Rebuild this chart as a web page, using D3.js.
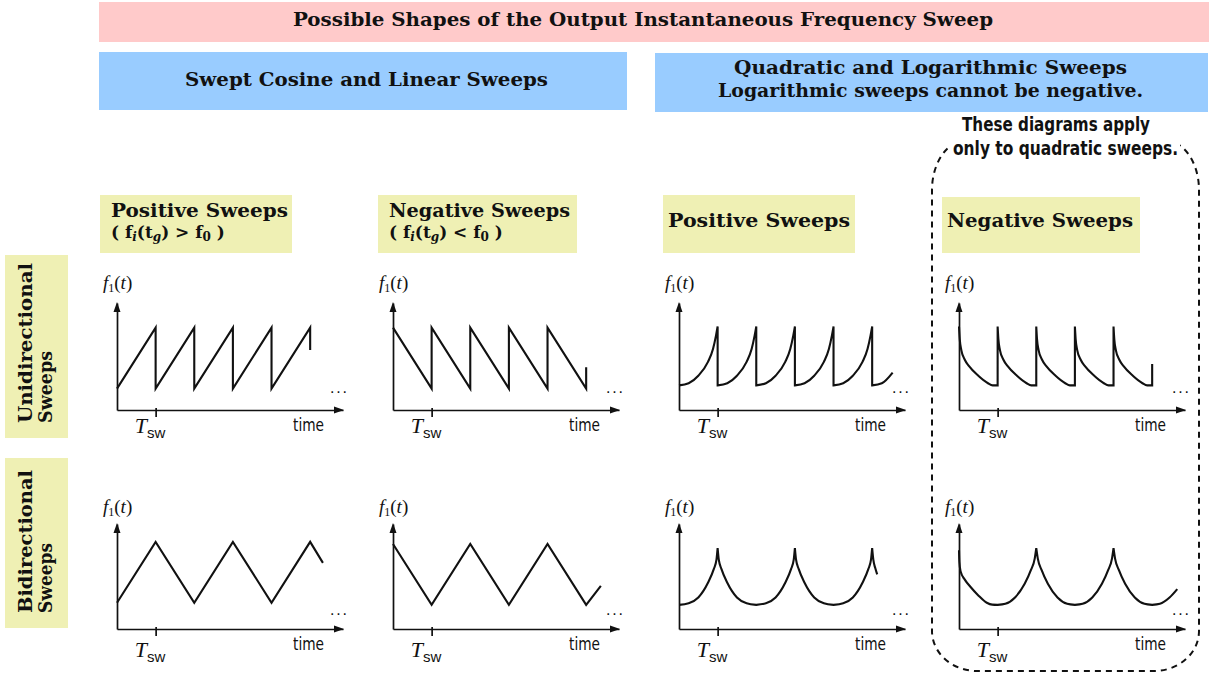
<!DOCTYPE html>
<html><head><meta charset="utf-8">
<script src="https://cdn.jsdelivr.net/npm/d3@7"></script>
<style>body{margin:0;background:#fff}svg{display:block}</style>
</head><body>
<svg id="c" width="1213" height="673"></svg>
<script>
// ---------------- data ----------------
const titleText = "Possible Shapes of the Output Instantaneous Frequency Sweep";
const leftGroupTitle = ["Swept Cosine and Linear Sweeps"];
const rightGroupTitle = ["Quadratic and Logarithmic Sweeps", "Logarithmic sweeps cannot be negative."];
const columnTitles = ["Positive Sweeps", "Negative Sweeps", "Positive Sweeps", "Negative Sweeps"];
const columnConditions = [">", "<", null, null];
const rowTitles = [["Unidirectional", "Sweeps"], ["Bidirectional", "Sweeps"]];
const noteLines = ["These diagrams apply", "only to quadratic sweeps."];
const yLabel = ["f", "1", "(", "t", ")"];
const xLabel = "time";
const tickLabel = ["T", "sw"];
const tswTicks = [1];
const timeMax = 5.85;

// time in units of Tsw, frequency as fraction of the y-axis height
const linearUniPos = [[0,0.2],[1,0.77],[1,0.2],[2,0.77],[2,0.2],[3,0.77],[3,0.2],[4,0.77],[4,0.2],[5,0.77],[5,0.56]];
const linearUniNeg = [[0,0.77],[1,0.2],[1,0.77],[2,0.2],[2,0.77],[3,0.2],[3,0.77],[4,0.2],[4,0.77],[5,0.2],[5,0.4]];
const linearBiPos  = [[0,0.25],[1,0.83],[2,0.25],[3,0.83],[4,0.25],[5,0.83],[5.33,0.63]];
const linearBiNeg  = [[0,0.81],[1,0.23],[2,0.81],[3,0.23],[4,0.81],[5,0.23],[5.38,0.41]];

const quadUniPos = [
  [[0,0.23],[0.25,0.25],[0.5,0.32],[0.75,0.45],[0.88,0.57],[0.96,0.7],[1,0.78]],
  [[1,0.23],[1.25,0.25],[1.5,0.32],[1.75,0.45],[1.88,0.57],[1.96,0.7],[2,0.78]],
  [[2,0.23],[2.25,0.25],[2.5,0.32],[2.75,0.45],[2.88,0.57],[2.96,0.7],[3,0.78]],
  [[3,0.23],[3.25,0.25],[3.5,0.32],[3.75,0.45],[3.88,0.57],[3.96,0.7],[4,0.78]],
  [[4,0.23],[4.25,0.25],[4.5,0.32],[4.75,0.45],[4.88,0.57],[4.96,0.7],[5,0.78]],
  [[5,0.23],[5.25,0.25],[5.53,0.35]]
];
const quadUniNeg = [
  [[0,0.78],[0.02,0.66],[0.06,0.56],[0.15,0.47],[0.26,0.41],[0.5,0.32],[0.75,0.25],[0.87,0.23],[1,0.23]],
  [[1,0.78],[1.02,0.66],[1.06,0.56],[1.15,0.47],[1.26,0.41],[1.5,0.32],[1.75,0.25],[1.87,0.23],[2,0.23]],
  [[2,0.78],[2.02,0.66],[2.06,0.56],[2.15,0.47],[2.26,0.41],[2.5,0.32],[2.75,0.25],[2.87,0.23],[3,0.23]],
  [[3,0.78],[3.02,0.66],[3.06,0.56],[3.15,0.47],[3.26,0.41],[3.5,0.32],[3.75,0.25],[3.87,0.23],[4,0.23]],
  [[4,0.78],[4.02,0.66],[4.06,0.56],[4.15,0.47],[4.26,0.41],[4.5,0.32],[4.75,0.25],[4.87,0.23],[5,0.23]],
  [[5,0.43]]
];
const quadBiPos = [
  [[0,0.23],[0.25,0.245],[0.5,0.3],[0.75,0.44],[0.9,0.57],[0.97,0.66],[1,0.77]],
  [[1,0.77],[1.03,0.66],[1.1,0.57],[1.25,0.44],[1.5,0.3],[1.75,0.245],[2,0.23]],
  [[2,0.23],[2.25,0.245],[2.5,0.3],[2.75,0.44],[2.9,0.57],[2.97,0.66],[3,0.77]],
  [[3,0.77],[3.03,0.66],[3.1,0.57],[3.25,0.44],[3.5,0.3],[3.75,0.245],[4,0.23]],
  [[4,0.23],[4.25,0.245],[4.5,0.3],[4.75,0.44],[4.9,0.57],[4.97,0.66],[5,0.77]],
  [[5,0.77],[5.03,0.66],[5.08,0.58],[5.13,0.52]]
];
const quadBiNeg = [
  [[0,0.75],[0.01,0.64],[0.04,0.55],[0.15,0.47],[0.3,0.4],[0.5,0.32],[0.72,0.25],[0.86,0.232],[1,0.23]],
  [[1,0.23],[1.2,0.24],[1.45,0.3],[1.7,0.43],[1.86,0.56],[1.96,0.67],[2,0.77]],
  [[2,0.77],[2.04,0.67],[2.14,0.56],[2.3,0.43],[2.55,0.3],[2.8,0.24],[3,0.23]],
  [[3,0.23],[3.2,0.24],[3.45,0.3],[3.7,0.43],[3.86,0.56],[3.96,0.67],[4,0.77]],
  [[4,0.77],[4.04,0.67],[4.14,0.56],[4.3,0.43],[4.55,0.3],[4.8,0.24],[5,0.23]],
  [[5,0.23],[5.2,0.24],[5.45,0.3],[5.65,0.38]]
];

// ---------------- layout ----------------
const svg = d3.select("#c");
const SERIF = "'DejaVu Serif', 'Liberation Serif', serif";
const TIMES = "'Liberation Serif', 'Times New Roman', serif";
const NARROW = "'Liberation Sans Narrow', 'DejaVu Sans Condensed', 'Liberation Sans', sans-serif";
const PINK = "#ffcaca", BLUE = "#99ccff", YELLOW = "#eff0b4";

function box(x, y, w, h, fill) {
  svg.append("rect").attr("x", x).attr("y", y).attr("width", w).attr("height", h).attr("fill", fill);
}
function label(txt, x, y, opts) {
  const t = svg.append("text").attr("x", x).attr("y", y).text(txt)
    .attr("font-family", opts.family || SERIF).attr("font-weight", opts.weight || "bold")
    .attr("font-size", opts.size || 17).attr("text-anchor", opts.anchor || "start").attr("fill", "#111");
  if (opts.len) t.attr("textLength", opts.len).attr("lengthAdjust", "spacingAndGlyphs");
  if (opts.transform) t.attr("transform", opts.transform);
  return t;
}

// header
box(99, 2, 1110, 40, PINK);
label(titleText, 293, 26, {size: 18, len: 700});
box(99, 52, 528, 58, BLUE);
label(leftGroupTitle[0], 185, 86, {size: 18, len: 363});
box(655, 53, 553, 59, BLUE);
label(rightGroupTitle[0], 734, 74, {size: 18, len: 393});
label(rightGroupTitle[1], 718, 97, {size: 18, len: 425});

// dashed frame for quadratic-only diagrams
svg.append("path")
  .attr("d", "M967,140 H1164 A35,50 0 0 1 1199,190 V631 A45,40 0 0 1 1154,671 H977 A45,40 0 0 1 932,631 V190 A35,50 0 0 1 967,140 Z")
  .attr("fill", "none").attr("stroke", "#111").attr("stroke-width", 2).attr("stroke-dasharray", "6,5");
box(948, 112, 232, 52, "#fff");
label(noteLines[0], 962, 131, {family: NARROW, size: 19, len: 188});
label(noteLines[1], 953, 155, {family: NARROW, size: 19, len: 225});

// column header boxes
const colBoxes = [[100,195,192,58],[378,195,199,58],[663,195,192,58],[942,197,198,56]];
colBoxes.forEach((b, i) => {
  box(b[0], b[1], b[2], b[3], YELLOW);
  if (columnConditions[i]) {
    label(columnTitles[i], b[0] + 11, 217, {size: 18, len: i === 0 ? 177 : 181});
    const t = svg.append("text").attr("x", b[0] + 11).attr("y", 238)
      .attr("font-family", SERIF).attr("font-weight", "bold").attr("font-size", 17).attr("fill", "#111");
    t.append("tspan").text("( f");
    t.append("tspan").text("i").attr("font-size", 12).attr("font-style", "italic").attr("dy", 3);
    t.append("tspan").text("(t").attr("dy", -3);
    t.append("tspan").text("g").attr("font-size", 12).attr("font-style", "italic").attr("dy", 3);
    t.append("tspan").text(") " + columnConditions[i] + " f").attr("dy", -3);
    t.append("tspan").text("0").attr("font-size", 12).attr("dy", 3);
    t.append("tspan").text(" )").attr("dy", -3);
  } else {
    label(columnTitles[i], b[0] + 5, 227, {size: 18, len: i === 2 ? 182 : 186});
  }
});

// row header boxes
const rowBoxes = [[5,255,63,183],[5,458,63,170]];
const rowTextStart = [423, 613];
const rowLens = [[160, 72], [143, 70]];
rowBoxes.forEach((b, i) => {
  box(b[0], b[1], b[2], b[3], YELLOW);
  label(rowTitles[i][0], 0, 0, {size: 18, len: rowLens[i][0], transform: `translate(32,${rowTextStart[i]}) rotate(-90)`});
  label(rowTitles[i][1], 0, 0, {size: 18, len: rowLens[i][1], transform: `translate(52,${rowTextStart[i]}) rotate(-90)`});
});

// ---------------- panels ----------------
const colOrigins = [117, 393, 679, 959];
const rowBase = [410, 629];
const rowTop = [303, 524];
const axisLen = 226;
const yLabelBase = [289, 513];
const tBase = [433, 657];
const timeBase = [431, 650];
const dotsBase = [393, 615];

const panels = [
  {row:0, col:0, segs:[linearUniPos], curve:d3.curveLinear},
  {row:0, col:1, segs:[linearUniNeg], curve:d3.curveLinear},
  {row:0, col:2, segs:quadUniPos, curve:d3.curveMonotoneX},
  {row:0, col:3, segs:quadUniNeg, curve:d3.curveMonotoneX},
  {row:1, col:0, segs:[linearBiPos], curve:d3.curveLinear},
  {row:1, col:1, segs:[linearBiNeg], curve:d3.curveLinear},
  {row:1, col:2, segs:quadBiPos, curve:d3.curveMonotoneX},
  {row:1, col:3, segs:quadBiNeg, curve:d3.curveMonotoneX}
];

panels.forEach(p => {
  const ox = colOrigins[p.col], base = rowBase[p.row], top = rowTop[p.row];
  const x = d3.scaleLinear().domain([0, timeMax]).range([ox, ox + axisLen]);
  const y = d3.scaleLinear().domain([0, 1]).range([base, top]);
  const g = svg.append("g");

  const xa = g.append("g").attr("transform", `translate(0,${base})`)
    .call(d3.axisBottom(x).tickValues(tswTicks).tickFormat(() => "").tickSize(7).tickSizeOuter(0));
  const ya = g.append("g").attr("transform", `translate(${ox},0)`)
    .call(d3.axisLeft(y).tickValues([]).tickSizeOuter(0));
  [xa, ya].forEach(a => a.selectAll("path,line").attr("stroke", "#111").attr("stroke-width", 1.7));
  xa.selectAll(".tick line").attr("y1", -2);

  // arrow heads
  g.append("path").attr("d", `M${ox},${top - 1} L${ox + 3.5},${top + 9} L${ox - 3.5},${top + 9} Z`).attr("fill", "#111");
  const xe = x(timeMax);
  g.append("path").attr("d", `M${xe + 1},${base} L${xe - 9},${base - 3.5} L${xe - 9},${base + 3.5} Z`).attr("fill", "#111");

  // curve
  let d = "";
  p.segs.forEach((seg, i) => {
    if (seg.length === 1) { d += (i ? "L" : "M") + x(seg[0][0]) + "," + y(seg[0][1]); return; }
    let s = d3.line().x(q => x(q[0])).y(q => y(q[1])).curve(p.curve)(seg);
    if (i > 0) s = "L" + s.slice(1);
    d += s;
  });
  g.append("path").attr("d", d).attr("fill", "none").attr("stroke", "#111")
    .attr("stroke-width", 2.1).attr("stroke-linejoin", "miter");

  // y label f1(t)
  const yl = g.append("text").attr("x", ox - 14).attr("y", yLabelBase[p.row])
    .attr("font-family", TIMES).attr("font-size", 19).attr("fill", "#111");
  yl.append("tspan").text(yLabel[0]).attr("font-style", "italic");
  yl.append("tspan").text(yLabel[1]).attr("font-size", 12).attr("dy", 3);
  yl.append("tspan").text(yLabel[2]).attr("dy", -3);
  yl.append("tspan").text(yLabel[3]).attr("font-style", "italic");
  yl.append("tspan").text(yLabel[4]);

  // Tsw label
  const tx = x(tswTicks[0]);
  const tl = g.append("text").attr("x", tx - 21).attr("y", tBase[p.row]).attr("fill", "#111");
  tl.append("tspan").text(tickLabel[0]).attr("font-family", TIMES).attr("font-style", "italic").attr("font-size", 22);
  tl.append("tspan").text(tickLabel[1]).attr("font-family", "'Liberation Sans', sans-serif").attr("font-size", 15).attr("dy", 5);

  // time label and dots
  g.append("text").attr("x", ox + 176).attr("y", timeBase[p.row]).text(xLabel)
    .attr("font-family", NARROW).attr("font-size", 18).attr("fill", "#111")
    .attr("textLength", 31).attr("lengthAdjust", "spacingAndGlyphs");
  g.append("text").attr("x", ox + 213).attr("y", dotsBase[p.row]).text("...")
    .attr("font-family", "'Liberation Sans', sans-serif").attr("font-size", 16).attr("fill", "#111")
    .attr("textLength", 17).attr("lengthAdjust", "spacing");
});
</script>
</body></html>
